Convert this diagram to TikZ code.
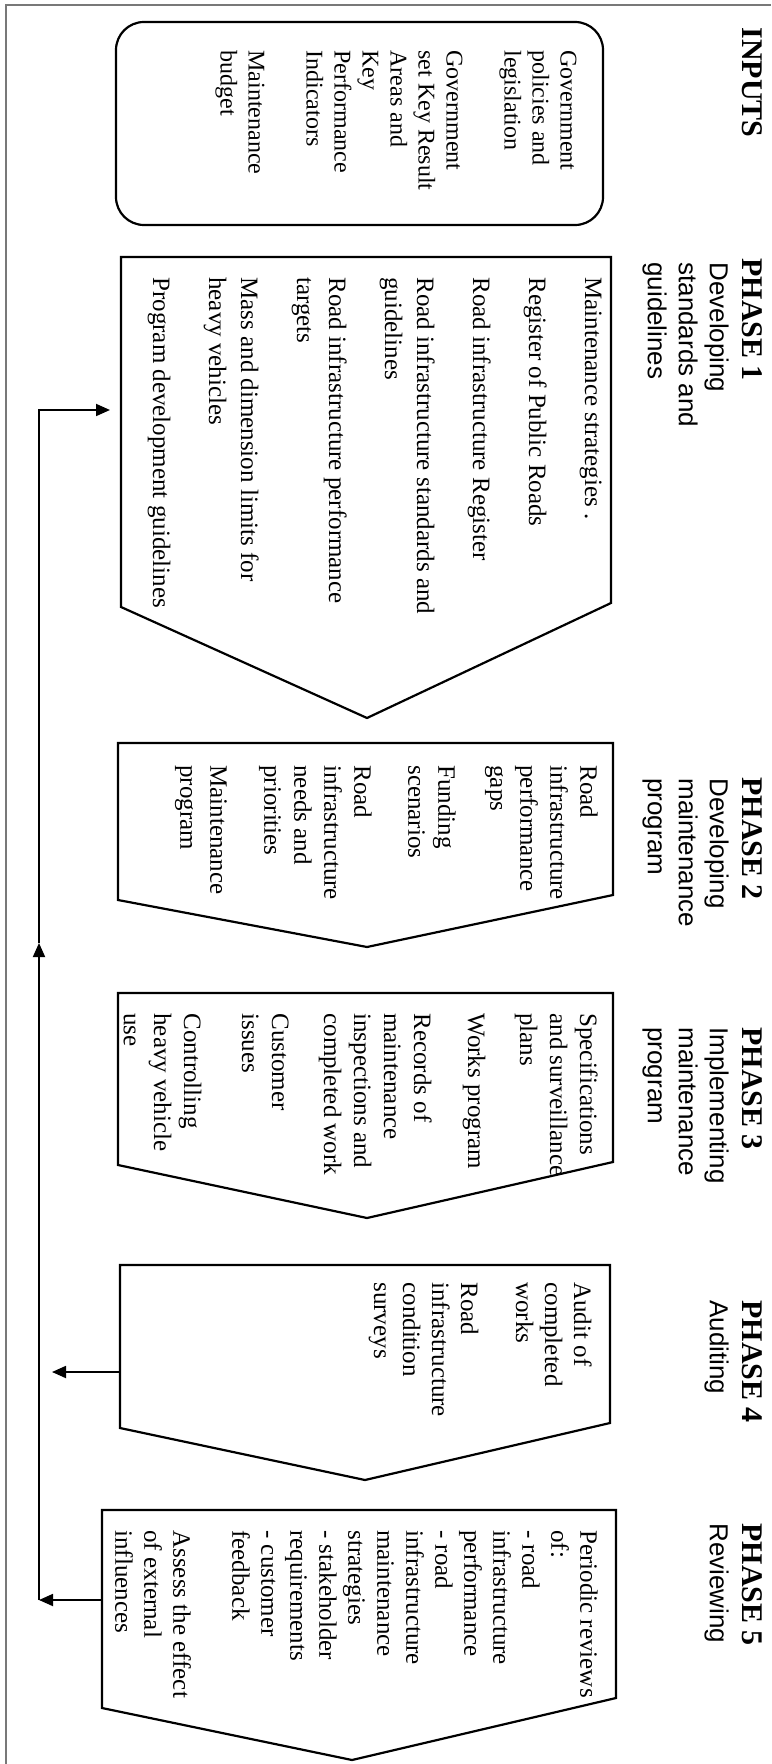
\documentclass[tikz,border=0pt]{standalone}
\usepackage{fontspec}
\setmainfont{Liberation Serif}
\newfontfamily\headsans{Liberation Sans}
\usetikzlibrary{arrows.meta, positioning}

\definecolor{framegray}{RGB}{120,120,120}

\tikzset{
  phasebox/.style={draw=black, line width=1.1pt, line join=miter},
  frameline/.style={draw=framegray, line width=0.6pt},
  headbold/.style={rotate=-90, anchor=north west, inner sep=0pt, font=\fontsize{15}{17}\selectfont\bfseries},
  headsub/.style={rotate=-90, anchor=north west, inner sep=0pt, align=left, font=\fontsize{13}{15.5}\selectfont\headsans},
  itemlist/.style={rotate=-90, anchor=north west, inner sep=0pt, align=left, font=\fontsize{12.5}{15}\selectfont},
  feedback/.style={line width=0.9pt, -{Triangle[length=7pt,width=6pt]}}
}

\begin{document}
\begin{tikzpicture}[x=0.5pt, y=-0.5pt]
    \useasboundingbox (0,0) rectangle (771,1764);
    \draw[frameline] (6,1764) -- (6,5) -- (771,5);

    % inputs
    \node[headbold] (inhead) at (763,27) {INPUTS};
    \draw[phasebox, rounded corners=14pt] (116,22) rectangle (603,225);
    \node[itemlist, font=\fontsize{12}{14}\selectfont] (inlist) at (577,50)
        {Government\\policies and\\legislation\\[15pt]Government\\set Key Result\\Areas and\\Key\\Performance\\Indicators\\[15pt]Maintenance\\budget};

    % phase 1
    \node[headbold] (p1head) at (763,258) {PHASE 1};
    \node[headsub] (p1sub) at (729,262) {Developing\\standards and\\guidelines};
    \draw[phasebox] (121,257) -- (611,257) -- (611,603) -- (367,718) -- (121,607) -- cycle;
    \node[itemlist, font=\fontsize{12.5}{16}\selectfont] (p1list) at (602,277)
        {Maintenance strategies .\\[12pt]Register of Public Roads\\[12pt]Road infrastructure Register\\[12pt]Road infrastructure standards and\\guidelines\\[12pt]Road infrastructure performance\\targets\\[12pt]Mass and dimension limits for\\heavy vehicles\\[12pt]Program development guidelines};

    % phase 2
    \node[headbold] (p2head) at (763,777) {PHASE 2};
    \node[headsub] (p2sub) at (729,778) {Developing\\maintenance\\program};
    \draw[phasebox] (118,743) -- (613,743) -- (613,895) -- (367,947) -- (118,900) -- cycle;
    \node[itemlist] (p2list) at (598,765)
        {Road\\infrastructure\\performance\\gaps\\[11pt]Funding\\scenarios\\[12pt]Road\\infrastructure\\needs and\\priorities\\[12pt]Maintenance\\program};

    % phase 3
    \node[headbold] (p3head) at (763,1027) {PHASE 3};
    \node[headsub] (p3sub) at (729,1027) {Implementing\\maintenance\\program};
    \draw[phasebox] (118,993) -- (613,993) -- (613,1162) -- (367,1218) -- (118,1165) -- cycle;
    \node[itemlist] (p3list) at (598,1013)
        {Specifications\\and surveillance\\plans\\[11pt]Works program\\[12pt]Records of\\maintenance\\inspections and\\completed work\\[11pt]Customer\\issues\\[14pt]Controlling\\heavy vehicle\\use};

    % phase 4
    \node[headbold] (p4head) at (763,1300) {PHASE 4};
    \node[headsub] (p4sub) at (729,1300) {Auditing};
    \draw[phasebox] (120,1265) -- (610,1265) -- (610,1423) -- (365,1480) -- (120,1428) -- cycle;
    \node[itemlist, font=\fontsize{12.5}{14.5}\selectfont] (p4list) at (592,1282)
        {Audit of\\completed\\works\\[13pt]Road\\infrastructure\\condition\\surveys};

    % phase 5
    \node[headbold] (p5head) at (763,1523) {PHASE 5};
    \node[headsub] (p5sub) at (729,1523) {Reviewing};
    \draw[phasebox] (102,1510) -- (616,1510) -- (616,1698) -- (352,1760) -- (102,1708) -- cycle;
    \node[itemlist, font=\fontsize{12.5}{14.5}\selectfont] (p5list) at (598,1530)
        {Periodic reviews\\of:\\- road\\infrastructure\\performance\\- road\\infrastructure\\maintenance\\strategies\\- stakeholder\\requirements\\- customer\\feedback\\[15pt]Assess the effect\\of external\\influences};

    % feedback loop
    \coordinate (fbtop) at (39,410);
    \coordinate (fbmid) at (39,943);
    \coordinate (fbbot) at (39,1600);
    \coordinate (p1in) at (110,410);
    \coordinate (p4out) at (120,1372);
    \coordinate (p4end) at (52,1372);
    \coordinate (p5out) at (102,1600);

    \draw[feedback] (p5out) -- (fbbot);
    \draw[feedback] (fbbot) -- (fbmid);
    \draw[feedback] (fbmid) -- (fbtop) -- (p1in);
    \draw[feedback] (p4out) -- (p4end);
\end{tikzpicture}
\end{document}
